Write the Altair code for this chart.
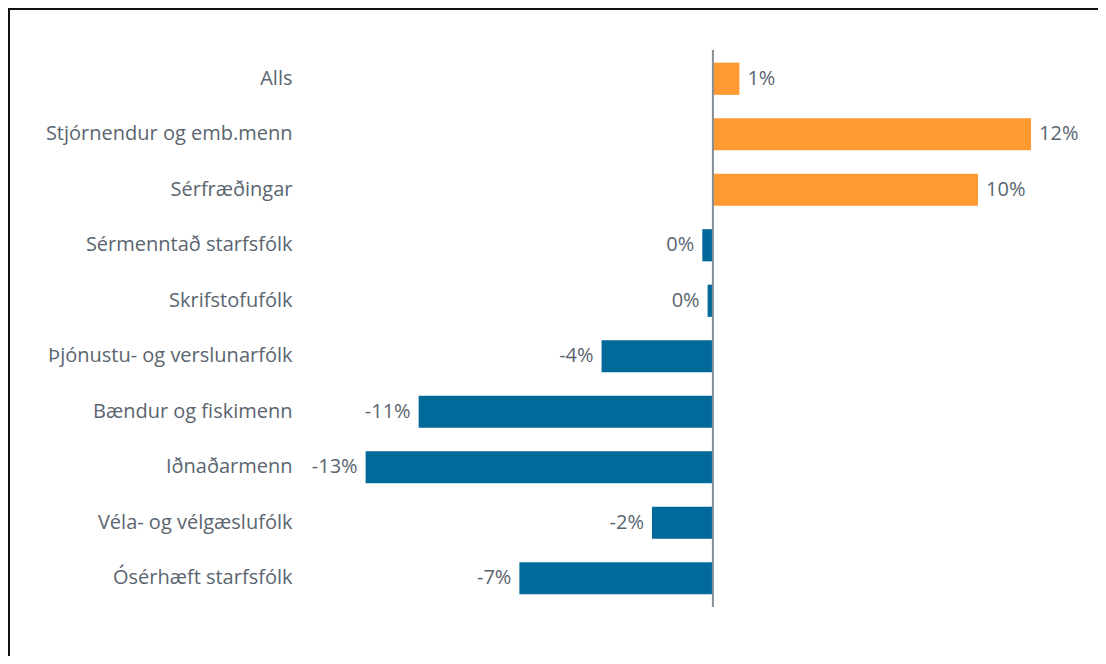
import altair as alt
import pandas as pd

categories = [
    "Alls",
    "Stjórnendur og emb.menn",
    "Sérfræðingar",
    "Sérmenntað starfsfólk",
    "Skrifstofufólk",
    "Þjónustu- og verslunarfólk",
    "Bændur og fiskimenn",
    "Iðnaðarmenn",
    "Véla- og vélgæslufólk",
    "Ósérhæft starfsfólk",
]
values = [1.0, 12.0, 10.0, -0.4, -0.2, -4.2, -11.1, -13.1, -2.3, -7.3]

df = pd.DataFrame({"cat": categories, "val": values})
df["sign"] = ["pos" if v > 0 else "neg" for v in values]
df["label"] = [f"{round(v):.0f}%" for v in values]

FONT = "Open Sans"
TXT = "#5A6570"
FS = 20

y_enc = alt.Y(
    "cat:N",
    sort=categories,
    scale=alt.Scale(paddingInner=0.42, paddingOuter=0.21),
    axis=alt.Axis(
        title=None, domain=False, ticks=False, labelPadding=10,
        labelFontSize=FS, labelFont=FONT, labelColor=TXT, labelLimit=400,
    ),
)
x_scale = alt.Scale(domain=[-15.5, 14.3], nice=False, zero=False)

base = alt.Chart(df)

bars = base.mark_bar().encode(
    x=alt.X("val:Q", scale=x_scale, axis=None),
    x2=alt.datum(0),
    y=y_enc,
    color=alt.Color(
        "sign:N",
        scale=alt.Scale(domain=["pos", "neg"], range=["#FF9A33", "#016A9A"]),
        legend=None,
    ),
)

text_pos = base.transform_filter("datum.val > 0").mark_text(
    align="left", dx=8, font=FONT, fontSize=FS, color=TXT, baseline="middle"
).encode(x=alt.X("val:Q", scale=x_scale, axis=None), y=y_enc, text="label:N")

text_neg = base.transform_filter("datum.val <= 0").mark_text(
    align="right", dx=-8, font=FONT, fontSize=FS, color=TXT, baseline="middle"
).encode(x=alt.X("val:Q", scale=x_scale, axis=None), y=y_enc, text="label:N")

zero = alt.Chart(pd.DataFrame({"z": [0]})).mark_rule(
    color="#868E96", strokeWidth=2
).encode(
    x=alt.X("z:Q", scale=x_scale, axis=None),
    y=alt.value(-1),
    y2=alt.value(556),
)

frame_top = alt.Chart(pd.DataFrame({"a": [0]})).mark_rule(
    color="#111111", strokeWidth=2
).encode(x=alt.value(-294), x2=alt.value(820), y=alt.value(-42))

frame_left = alt.Chart(pd.DataFrame({"a": [0]})).mark_rule(
    color="#111111", strokeWidth=2
).encode(x=alt.value(-293), y=alt.value(-43), y2=alt.value(700))

chart = alt.layer(bars, text_pos, text_neg, zero, frame_top, frame_left).properties(
    width=790,
    height=555,
    padding={"left": 294, "top": 43, "right": 6, "bottom": 50},
    autosize=alt.AutoSizeParams(type="none"),
    background="white",
).configure_view(stroke=None, strokeWidth=0)

chart.save("out.html", embed_options={"renderer": "svg", "actions": False})
